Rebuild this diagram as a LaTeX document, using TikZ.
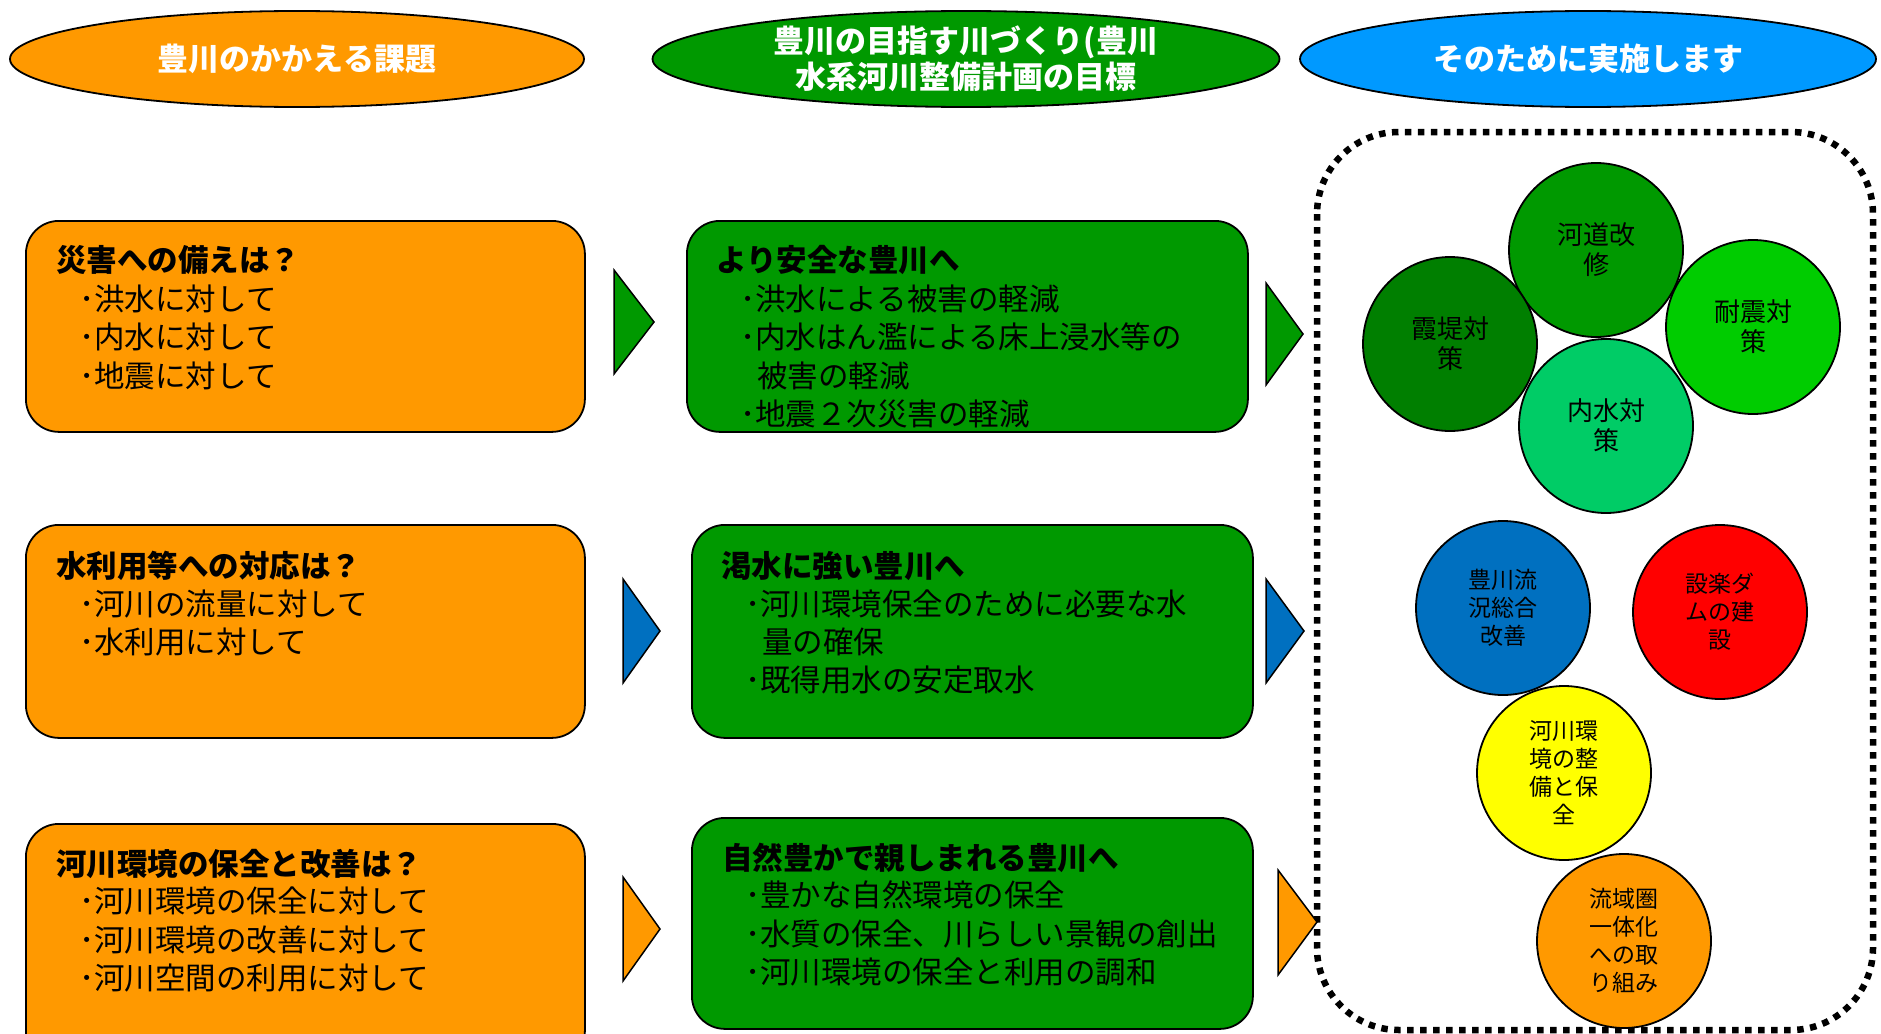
\documentclass[tikz,border=0pt]{standalone}
\usepackage{fontspec}
\setmainfont{Noto Sans CJK JP}
\usetikzlibrary{shapes.geometric}
\definecolor{orng}{HTML}{FF9900}
\definecolor{grn}{HTML}{009900}
\definecolor{hblue}{HTML}{0099FF}
\definecolor{ablue}{HTML}{0070C0}
\definecolor{cdark}{HTML}{007F00}
\definecolor{clight}{HTML}{00CC00}
\definecolor{cmint}{HTML}{00CC66}
\definecolor{cred}{HTML}{FF0000}
\definecolor{cyel}{HTML}{FFFF00}
\begin{document}
\begin{tikzpicture}[x=1pt,y=-1pt,
  boxbase/.style={draw=black, line width=1.8pt, rounded corners=33pt, anchor=north west, inner sep=0pt},
  boxo/.style={boxbase, fill=orng},
  boxg/.style={boxbase, fill=grn},
  hdr/.style={ellipse, draw=black, line width=1.8pt, inner sep=0pt, minimum height=96pt},
  hdrtxt/.style={inner sep=0pt, text=white, align=center, font=\bfseries\fontsize{31pt}{36pt}\selectfont},
  ttl/.style={anchor=base west, inner sep=0pt, font=\bfseries\fontsize{30.5pt}{36pt}\selectfont},
  ln/.style={anchor=base west, inner sep=0pt, font=\fontsize{30.5pt}{36pt}\selectfont},
  tri/.style={draw=black, line width=1.5pt, line join=miter},
  cgreen/.style={circle, draw=black, line width=1.8pt, minimum size=174pt, inner sep=0pt, align=center, font=\fontsize{26pt}{30pt}\selectfont},
  cother/.style={circle, draw=black, line width=1.8pt, minimum size=174pt, inner sep=0pt, align=center, font=\fontsize{23pt}{28pt}\selectfont},
  dotrect/.style={draw=black, line width=6.5pt, dash pattern=on 6.5pt off 6.5pt, rounded corners=82pt}
]
\clip (0,0) rectangle (1881,1033);
\fill[white] (0,0) rectangle (1881,1033);

% header ellipses
\node[hdr, fill=orng, minimum width=574pt] (h1) at (297,59) {};
\node[hdrtxt] (h1t) at (h1) {豊川のかかえる課題};
\node[hdr, fill=grn, minimum width=627pt] (h2) at (966,59) {};
\node[hdrtxt] (h2t) at (h2) {豊川の目指す川づくり(豊川\\水系河川整備計画の目標};
\node[hdr, fill=hblue, minimum width=576pt] (h3) at (1588,59) {};
\node[hdrtxt] (h3t) at (h3) {そのために実施します};

% boxes
\node[boxo, minimum width=559pt, minimum height=211pt] (o1) at (25,220) {};
\node[boxg, minimum width=561pt, minimum height=211pt] (g1) at (686,220) {};
\node[boxo, minimum width=559pt, minimum height=213pt] (o2) at (25,524) {};
\node[boxg, minimum width=561pt, minimum height=213pt] (g2) at (691,524) {};
\node[boxo, minimum width=559pt, minimum height=240pt] (o3) at (25,823) {};
\node[boxg, minimum width=561pt, minimum height=211pt] (g3) at (691,817) {};

% box 1 texts
\node[ttl] (o1t) at (56,271) {災害への備えは？};
\node[ln] (o1a) at (79,310) {･洪水に対して};
\node[ln] (o1b) at (79,348) {･内水に対して};
\node[ln] (o1c) at (79,387) {･地震に対して};
\node[ttl] (g1t) at (716,271) {より安全な豊川へ};
\node[ln] (g1a) at (740,310) {･洪水による被害の軽減};
\node[ln] (g1b) at (740,348) {･内水はん濫による床上浸水等の};
\node[ln] (g1c) at (757,387) {被害の軽減};
\node[ln] (g1d) at (740,425) {･地震２次災害の軽減};

% box 2 texts
\node[ttl] (o2t) at (56,577) {水利用等への対応は？};
\node[ln] (o2a) at (79,615) {･河川の流量に対して};
\node[ln] (o2b) at (79,653) {･水利用に対して};
\node[ttl] (g2t) at (721,577) {渇水に強い豊川へ};
\node[ln] (g2a) at (745,615) {･河川環境保全のために必要な水};
\node[ln] (g2b) at (762,653) {量の確保};
\node[ln] (g2c) at (745,691) {･既得用水の安定取水};

% box 3 texts
\node[ttl] (o3t) at (56,875) {河川環境の保全と改善は？};
\node[ln] (o3a) at (79,912) {･河川環境の保全に対して};
\node[ln] (o3b) at (79,951) {･河川環境の改善に対して};
\node[ln] (o3c) at (79,989) {･河川空間の利用に対して};
\node[ttl] (g3t) at (722,869) {自然豊かで親しまれる豊川へ};
\node[ln] (g3a) at (745,906) {･豊かな自然環境の保全};
\node[ln] (g3b) at (745,945) {･水質の保全、川らしい景観の創出};
\node[ln] (g3c) at (745,983) {･河川環境の保全と利用の調和};

% dotted frame
\draw[dotrect] (1317,132) rectangle (1873,1030);

% arrows
\draw[tri, fill=grn] (614,270) -- (654,322) -- (614,374) -- cycle;
\draw[tri, fill=grn] (1266,283) -- (1303,334) -- (1266,385) -- cycle;
\draw[tri, fill=ablue] (623,579) -- (660,631) -- (623,683) -- cycle;
\draw[tri, fill=ablue] (1266,579) -- (1304,631) -- (1266,683) -- cycle;
\draw[tri, fill=orng] (623,877) -- (660,929) -- (623,981) -- cycle;
\draw[tri, fill=orng] (1278,870) -- (1317,922) -- (1278,975) -- cycle;

% circles
\node[cgreen, fill=grn] (c1) at (1596,250) {河道改\\修};
\node[cgreen, fill=cdark] (c2) at (1450,344) {霞堤対\\策};
\node[cgreen, fill=clight] (c3) at (1753,327) {耐震対\\策};
\node[cgreen, fill=cmint] (c4) at (1606,426) {内水対\\策};
\node[cother, fill=ablue] (c5) at (1503,608) {豊川流\\況総合\\改善};
\node[cother, fill=cred] (c6) at (1720,612) {設楽ダ\\ムの建\\設};
\node[cother, fill=cyel] (c7) at (1564,773) {河川環\\境の整\\備と保\\全};
\node[cother, fill=orng] (c8) at (1624,941) {流域圏\\一体化\\への取\\り組み};
\end{tikzpicture}
\end{document}
